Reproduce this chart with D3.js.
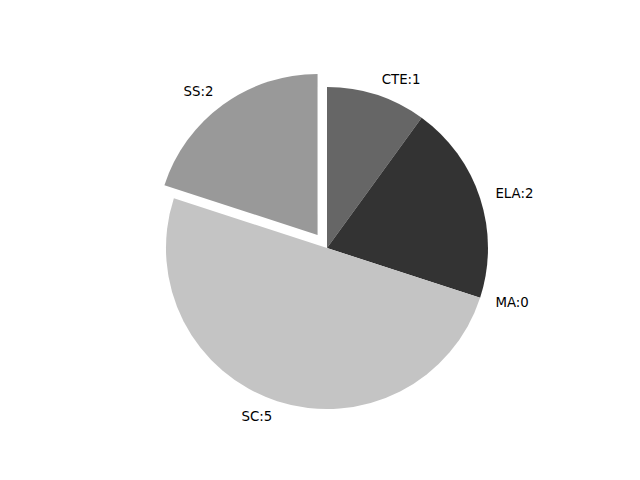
<!DOCTYPE html>
<html>
<head>
<meta charset="utf-8">
<script src="https://cdn.jsdelivr.net/npm/d3@7"></script>
<style>
html,body{margin:0;padding:0;background:#fff;}
svg{display:block;}
</style>
</head>
<body>
<script>
const categories = ["CTE", "ELA", "MA", "SC", "SS"];
const values = [1, 2, 0, 5, 2];
const colors = ["#666666", "#333333", "#000000", "#c4c4c4", "#999999"];
const explode = [0, 0, 0, 0, 0.1];

const W = 640, H = 480;
const cx = 327, cy = 248, R = 161;

const svg = d3.select("body").append("svg").attr("width", W).attr("height", H);
const g = svg.append("g").attr("transform", `translate(${cx},${cy})`);

const data = categories.map((c, i) => ({cat: c, val: values[i], color: colors[i], ex: explode[i]}));
const pie = d3.pie().sort(null).value(d => d.val).startAngle(0).endAngle(2 * Math.PI);
const arcs = pie(data);
const arc = d3.arc().innerRadius(0).outerRadius(R);

arcs.forEach(a => {
  const mid = (a.startAngle + a.endAngle) / 2;
  const ox = a.data.ex * R * Math.sin(mid);
  const oy = -a.data.ex * R * Math.cos(mid);
  if (a.data.val > 0) {
    g.append("path")
      .attr("d", arc(a))
      .attr("transform", `translate(${ox},${oy})`)
      .attr("fill", a.data.color);
  }
  const lx = ox + 1.1 * R * Math.sin(mid);
  const ly = oy - 1.1 * R * Math.cos(mid);
  g.append("text")
    .attr("x", lx)
    .attr("y", ly)
    .attr("text-anchor", lx - ox >= 0 ? "start" : "end")
    .attr("dominant-baseline", "central")
    .attr("font-family", "DejaVu Sans, sans-serif")
    .attr("font-size", "13.33px")
    .attr("fill", "#000")
    .text(`${a.data.cat}:${a.data.val}`);
});
</script>
</body>
</html>
